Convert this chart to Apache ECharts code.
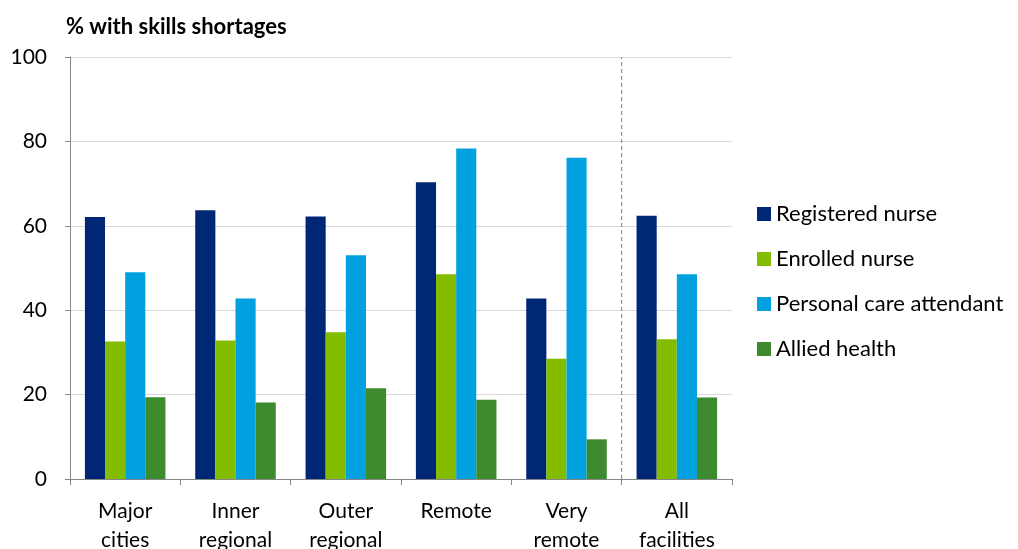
<!DOCTYPE html>
<html><head><meta charset="utf-8">
<script src="https://cdn.jsdelivr.net/npm/echarts@6/dist/echarts.min.js"></script>
<style>html,body{margin:0;padding:0;background:#fff}#c{width:1018px;height:549px}</style>
</head><body><div id="c"></div>
<script>
const categories = ["Major\ncities","Inner\nregional","Outer\nregional","Remote","Very\nremote","All\nfacilities"];
const registeredNurse = [62.1, 63.7, 62.2, 70.3, 42.8, 62.4];
const enrolledNurse = [32.6, 32.8, 34.8, 48.5, 28.5, 33.1];
const personalCare = [49.0, 42.8, 53.0, 78.3, 76.1, 48.5];
const alliedHealth = [19.4, 18.1, 21.5, 18.8, 9.4, 19.3];
const seriesNames = ["Registered nurse","Enrolled nurse","Personal care attendant","Allied health"];
const colors = ["#002776","#84BC00","#00A1DE","#3D8A2F"];
const yTicks = [0,20,40,60,80,100];
const dividerAt = 5;

const font = "Lato, 'Open Sans', 'Liberation Sans', sans-serif";
const chart = echarts.init(document.getElementById('c'), null, {renderer:'canvas'});
const vals = [registeredNurse, enrolledNurse, personalCare, alliedHealth];
chart.setOption({
  animation:false,
  color: colors,
  textStyle:{fontFamily:font},
  title:{text:"% with skills shortages", left:61, top:11,
    textStyle:{fontFamily:font, fontWeight:'bold', fontSize:22, color:'#000'}},
  legend:{orient:'vertical', left:757, top:203, padding:0, itemWidth:14, itemHeight:14, itemGap:23, itemStyle:{borderWidth:0},
    icon:'rect', textStyle:{fontFamily:font, fontSize:22, color:'#000', padding:[0,0,0,0]}, data:seriesNames},
  grid:{left:70, right:286, top:57, bottom:70, containLabel:false, outerBoundsMode:'none'},
  xAxis:[{type:'category', data:categories,
    axisLine:{lineStyle:{color:'#868686', width:1}},
    axisTick:{show:true, length:6, alignWithLabel:false, lineStyle:{color:'#868686'}},
    axisLabel:{fontFamily:font, fontSize:21, color:'#000', lineHeight:29, margin:18, interval:0}},
   {type:'value', min:0, max:categories.length, show:false}],
  yAxis:{type:'value', min:0, max:100, interval:20,
    axisLine:{show:true, lineStyle:{color:'#868686'}},
    axisTick:{show:true, length:5, lineStyle:{color:'#868686'}},
    splitLine:{lineStyle:{color:'#D9D9D9'}},
    axisLabel:{fontFamily:font, fontSize:21, color:'#000', margin:23,
      formatter:v=>yTicks.includes(v)?String(v):''}},
  series: seriesNames.map((n,i)=>({name:n, type:'bar', data:vals[i], barGap:'0%', barCategoryGap:'27%',
    itemStyle:{color:colors[i]}})).concat([{
      name:'divider', type:'line', xAxisIndex:1, data:[[dividerAt,0],[dividerAt,100]],
      symbol:'none', silent:true, lineStyle:{color:'#7F7F7F', width:1, type:[4,3]}, z:1}])
});
</script></body></html>
